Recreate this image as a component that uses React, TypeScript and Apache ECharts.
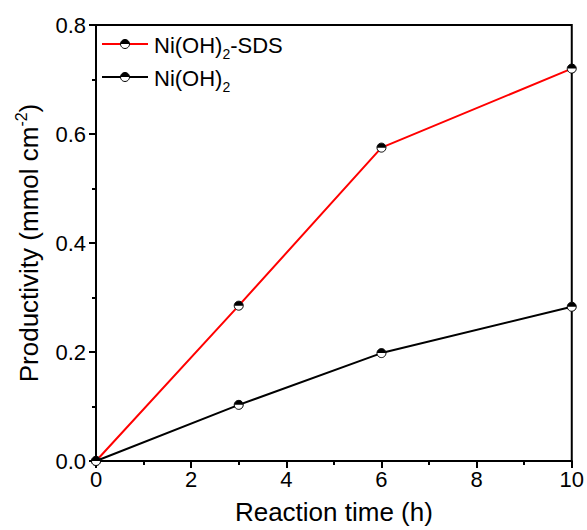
import React, { useEffect, useRef } from "react";
import * as echarts from "echarts";

const hours = [0, 3, 6, 10];
const sdsValues = [0, 0.285, 0.575, 0.72];
const plainValues = [0, 0.103, 0.198, 0.283];
const seriesNames = ["Ni(OH)2-SDS", "Ni(OH)2"];
const seriesColors = ["#ff0000", "#000000"];

const FONT = 'Arial, "Liberation Sans", sans-serif';

function pairs(xs: number[], ys: number[]) {
  return xs.map((x, i) => [x, ys[i]]);
}

function markerItem(params: any, api: any) {
  const p = api.coord([api.value(0), api.value(1)]);
  const r = 4.5;
  return {
    type: "group",
    children: [
      { type: "circle", shape: { cx: p[0], cy: p[1], r }, style: { fill: "#fff", stroke: "#000", lineWidth: 1 } },
      { type: "sector", shape: { cx: p[0], cy: p[1], r, startAngle: Math.PI, endAngle: 2 * Math.PI }, style: { fill: "#000" } },
    ],
  };
}

function legendRow(y: number, color: string, label: any) {
  const x0 = 102, x1 = 148, cx = 125, r = 4.5;
  return [
    { type: "line", shape: { x1: x0, y1: y, x2: x1, y2: y }, style: { stroke: color, lineWidth: 2 }, z: 10 },
    { type: "circle", shape: { cx, cy: y, r }, style: { fill: "#fff", stroke: "#000", lineWidth: 1 }, z: 11 },
    { type: "sector", shape: { cx, cy: y, r, startAngle: Math.PI, endAngle: 2 * Math.PI }, style: { fill: "#000" }, z: 12 },
    {
      type: "text",
      x: 154,
      y: y + 1,
      z: 12,
      style: {
        text: label,
        fontFamily: FONT,
        verticalAlign: "middle",
        align: "left",
        rich: {
          a: { fontSize: 22, fontFamily: FONT, fill: "#000", lineHeight: 24 },
          s: { fontSize: 14, fontFamily: FONT, fill: "#000", verticalAlign: "bottom", lineHeight: 14, padding: [0, 0, -4, 0] },
        },
      },
    },
  ];
}

export default function App() {
  const ref = useRef<HTMLDivElement>(null);
  useEffect(() => {
    if (!ref.current) return;
    const chart = echarts.init(ref.current, undefined, { renderer: "svg" });
    const option: any = {
      animation: false,
      backgroundColor: "#fff",
      grid: { left: 96, right: 14, top: 25, bottom: 65, show: true, borderColor: "#000", borderWidth: 2 },
      xAxis: {
        type: "value",
        min: 0,
        max: 10,
        interval: 2,
        name: "Reaction time (h)",
        nameLocation: "middle",
        nameGap: 38,
        nameTextStyle: { fontSize: 26, fontFamily: FONT, color: "#000" },
        axisLine: { show: true, lineStyle: { color: "#000", width: 2 } },
        axisTick: { show: true, inside: false, length: 7, lineStyle: { color: "#000", width: 2 } },
        minorTick: { show: true, splitNumber: 2, length: 4, lineStyle: { color: "#000", width: 2 } },
        axisLabel: { fontSize: 22, fontFamily: FONT, color: "#000", margin: 7 },
        splitLine: { show: false },
      },
      yAxis: {
        type: "value",
        min: 0,
        max: 0.8,
        interval: 0.2,
        name: "{a|Productivity (mmol cm}{s|-2}{a|)}",
        nameLocation: "middle",
        nameGap: 53,
        nameRotate: 90,
        nameTextStyle: {
          fontSize: 26,
          fontFamily: FONT,
          color: "#000",
          rich: {
            a: { fontSize: 26, fontFamily: FONT, color: "#000", lineHeight: 28 },
            s: { fontSize: 16, fontFamily: FONT, color: "#000", verticalAlign: "top", lineHeight: 16, padding: [-2, 0, 0, 0] },
          },
        },
        axisLine: { show: true, lineStyle: { color: "#000", width: 2 } },
        axisTick: { show: true, inside: false, length: 7, lineStyle: { color: "#000", width: 2 } },
        minorTick: { show: true, splitNumber: 2, length: 4, lineStyle: { color: "#000", width: 2 } },
        axisLabel: { fontSize: 22, fontFamily: FONT, color: "#000", margin: 10, formatter: (v: number) => v.toFixed(1) },
        splitLine: { show: false },
      },
      series: [
        {
          name: seriesNames[0],
          type: "line",
          data: pairs(hours, sdsValues),
          showSymbol: false,
          lineStyle: { color: seriesColors[0], width: 2 },
          z: 2,
        },
        {
          name: seriesNames[1],
          type: "line",
          data: pairs(hours, plainValues),
          showSymbol: false,
          lineStyle: { color: seriesColors[1], width: 2 },
          z: 2,
        },
        {
          name: seriesNames[0] + " markers",
          type: "custom",
          data: pairs(hours, sdsValues),
          renderItem: markerItem,
          clip: false,
          z: 5,
        },
        {
          name: seriesNames[1] + " markers",
          type: "custom",
          data: pairs(hours, plainValues),
          renderItem: markerItem,
          clip: false,
          z: 5,
        },
      ],
      graphic: [
        ...legendRow(44, seriesColors[0], "{a|Ni(OH)}{s|2}{a|-SDS}"),
        ...legendRow(77, seriesColors[1], "{a|Ni(OH)}{s|2}"),
      ],
    };
    chart.setOption(option);
    return () => chart.dispose();
  }, []);
  return <div ref={ref} style={{ position: "fixed", left: 0, top: 0, width: 587, height: 530 }} />;
}
